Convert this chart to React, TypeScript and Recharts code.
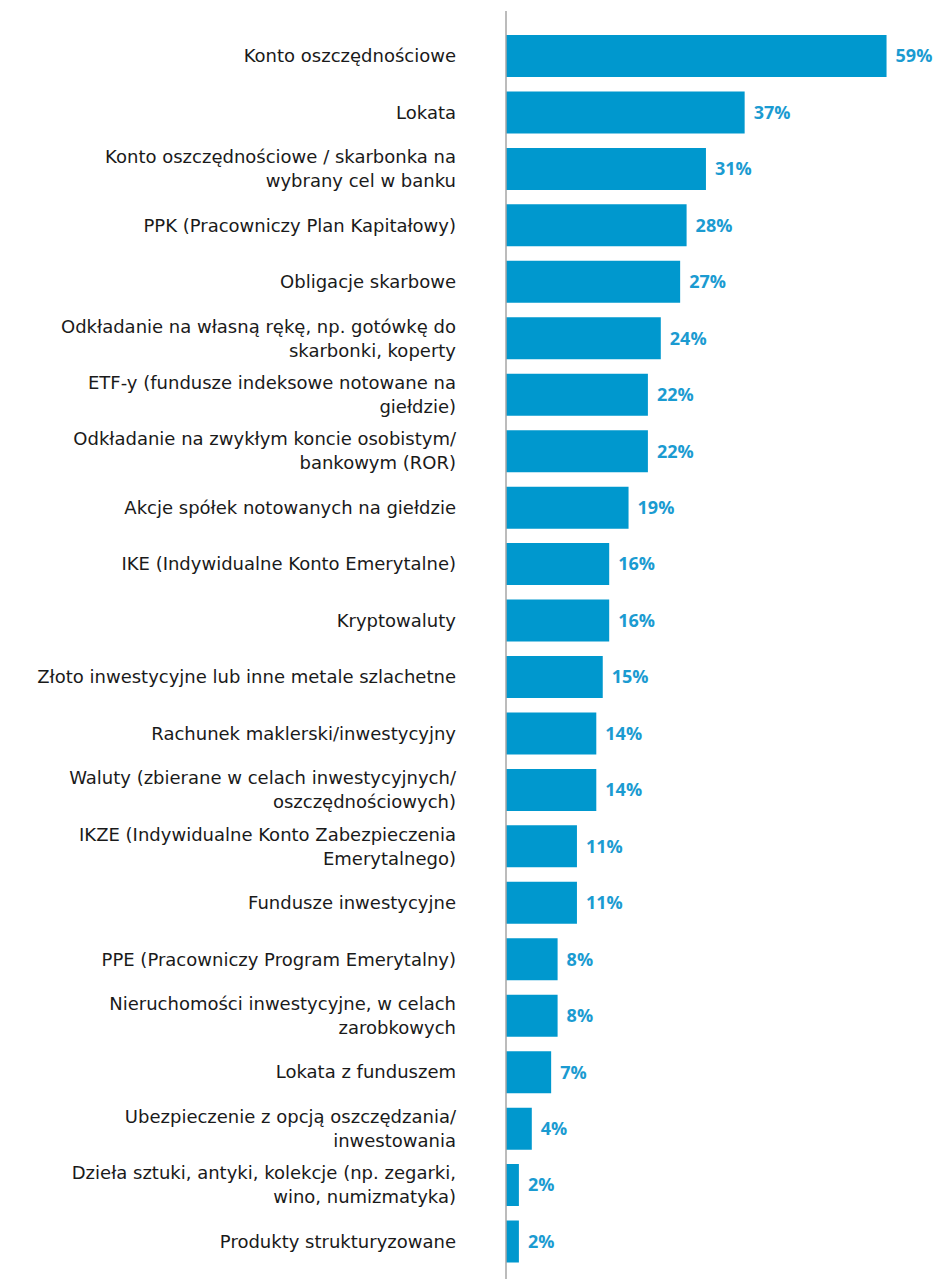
import React from 'react';
import { BarChart, Bar, XAxis, YAxis, LabelList } from 'recharts';

const categories = [
  'Konto oszczędnościowe',
  'Lokata',
  'Konto oszczędnościowe / skarbonka na\nwybrany cel w banku',
  'PPK (Pracowniczy Plan Kapitałowy)',
  'Obligacje skarbowe',
  'Odkładanie na własną rękę, np. gotówkę do\nskarbonki, koperty',
  'ETF-y (fundusze indeksowe notowane na\ngiełdzie)',
  'Odkładanie na zwykłym koncie osobistym/\nbankowym (ROR)',
  'Akcje spółek notowanych na giełdzie',
  'IKE (Indywidualne Konto Emerytalne)',
  'Kryptowaluty',
  'Złoto inwestycyjne lub inne metale szlachetne',
  'Rachunek maklerski/inwestycyjny',
  'Waluty (zbierane w celach inwestycyjnych/\noszczędnościowych)',
  'IKZE (Indywidualne Konto Zabezpieczenia\nEmerytalnego)',
  'Fundusze inwestycyjne',
  'PPE (Pracowniczy Program Emerytalny)',
  'Nieruchomości inwestycyjne, w celach\nzarobkowych',
  'Lokata z funduszem',
  'Ubezpieczenie z opcją oszczędzania/\ninwestowania',
  'Dzieła sztuki, antyki, kolekcje (np. zegarki,\nwino, numizmatyka)',
  'Produkty strukturyzowane',
];

const shares = [59, 37, 31, 28, 27, 24, 22, 22, 19, 16, 16, 15, 14, 14, 11, 11, 8, 8, 7, 4, 2, 2];

const data = categories.map((name, i) => ({ name, value: shares[i] }));

const LABEL_FONT = '"DejaVu Sans", sans-serif';
const VALUE_FONT = '"Open Sans", sans-serif';

const CategoryTick = (props: any) => {
  const { x, y, payload } = props;
  const lines: string[] = String(payload.value).split('\n');
  const lineH = 24;
  const start = -((lines.length - 1) * lineH) / 2;
  return (
    <text x={x - 42} y={y} textAnchor="end" fontFamily={LABEL_FONT} fontSize={18} fill="#1a1a1a">
      {lines.map((l, i) => (
        <tspan key={i} x={x - 42} dy={i === 0 ? start + 6 : lineH}>
          {l}
        </tspan>
      ))}
    </text>
  );
};

export default function App() {
  return (
    <div style={{ position: 'absolute', left: 0, top: 0, width: 942, height: 1279 }}>
      <BarChart
        layout="vertical"
        width={942}
        height={1279}
        data={data}
        margin={{ top: 11, right: 49, bottom: 0, left: 0 }}
        barCategoryGap={14}
      >
        <XAxis type="number" domain={[0, 60]} hide />
        <YAxis
          type="category"
          dataKey="name"
          width={506}
          padding={{ top: 17, bottom: 9 }}
          tickLine={false}
          axisLine={{ stroke: '#a6a6a6', strokeWidth: 1.5 }}
          tick={<CategoryTick />}
          interval={0}
        />
        <Bar dataKey="value" fill="#0098ce" barSize={42} isAnimationActive={false}>
          <LabelList
            dataKey="value"
            position="right"
            offset={9}
            formatter={(v: any) => `${v}%`}
            style={{ fill: '#1b9bd1', fontFamily: VALUE_FONT, fontSize: 18, fontWeight: 700 }}
          />
        </Bar>
      </BarChart>
    </div>
  );
}
